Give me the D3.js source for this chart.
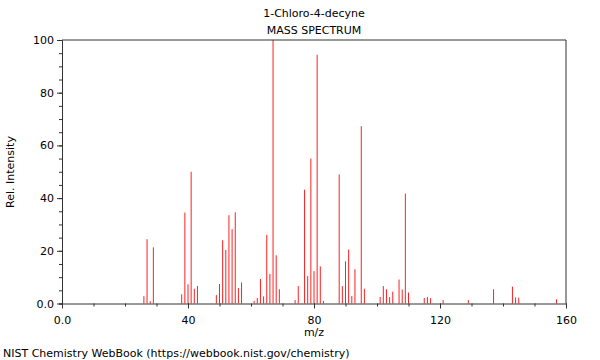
<!DOCTYPE html>
<html>
<head>
<meta charset="utf-8">
<script src="https://cdn.jsdelivr.net/npm/d3@7"></script>
<style>
    body { margin: 0; background: #fff; }
    svg text { font-family: "DejaVu Sans", sans-serif; font-size: 11px; fill: #000; }
</style>
</head>
<body>
<svg id="chart" width="600" height="360"></svg>
<script>
// Peaks
const mzValues = [26, 27, 28, 29, 38, 39, 40, 41, 42, 43,
    49, 50, 51, 52, 53, 54, 55, 56, 57,
    61, 62, 63, 64, 65, 66, 67, 68, 69,
    74, 75, 77, 78, 79, 80, 81, 82, 83,
    88, 89, 90, 91, 92, 93, 95, 96,
    101, 102, 103, 104, 105, 107, 108, 109, 110,
    115, 116, 117, 121, 129, 137, 143, 144, 145, 157];
const intensities = [2.8, 24.4, 0.9, 21.3, 3.5, 34.5, 7.3, 50, 5.6, 6.6,
    3.2, 7.4, 24, 20.3, 33.5, 28.2, 34.6, 5.9, 8.0,
    1.0, 2.1, 9.3, 2.7, 26.0, 11.2, 100, 18.3, 5.4,
    1.3, 6.6, 43.2, 10.4, 55.0, 12.3, 94.4, 14.1, 1.0,
    49.0, 6.6, 16.0, 20.5, 2.8, 13.0, 67.3, 5.6,
    2.5, 6.6, 5.4, 2.4, 4.5, 9.1, 5.3, 41.7, 4.2,
    2.1, 2.5, 2.0, 1.3, 1.3, 5.4, 6.4, 2.3, 2.2, 1.6];

const xTicks = [0, 40, 80, 120, 160];
const yTicks = [0, 20, 40, 60, 80, 100];
const xTickLabels = ["0.0", "40", "80", "120", "160"];
const yTickLabels = ["0.0", "20", "40", "60", "80", "100"];

const titleLines = ["1-Chloro-4-decyne", "MASS SPECTRUM"];

const svg = d3.select("#chart");
const plotLeft = 62, plotRight = 566, plotTop = 40, plotBottom = 303.5;
const axisColor = "#333";

const x = d3.scaleLinear().domain([0, 160]).range([plotLeft, plotRight]);
const y = d3.scaleLinear().domain([0, 100]).range([plotBottom, plotTop]);

// Bars
svg.append("g")
    .selectAll("line")
    .data(mzValues.map((m, i) => ({ mz: m, v: intensities[i] })))
    .enter().append("line")
    .attr("x1", d => x(d.mz))
    .attr("x2", d => x(d.mz))
    .attr("y1", y(0))
    .attr("y2", d => y(d.v))
    .attr("stroke", "#ff2020")
    .attr("stroke-width", 1);

// Frame (top and right)
svg.append("path")
    .attr("d", `M${plotLeft},${plotTop}H${plotRight}V${plotBottom}`)
    .attr("fill", "none")
    .attr("stroke", axisColor);

// X axis
const xAxis = svg.append("g").attr("transform", `translate(0,${plotBottom})`);
xAxis.call(d3.axisBottom(x).tickValues(d3.range(0, 161, 10)).tickSize(3).tickFormat(""))
    .call(g => g.select(".domain").attr("stroke", axisColor))
    .call(g => g.selectAll(".tick line").attr("stroke", axisColor));
xAxis.append("g")
    .call(d3.axisBottom(x).tickValues(xTicks).tickSize(5)
        .tickFormat((d, i) => xTickLabels[i]))
    .call(g => g.select(".domain").remove())
    .call(g => g.selectAll(".tick line").attr("stroke", axisColor))
    .call(g => g.selectAll("text").attr("dy", "1.1em").style("font-size", "11px").style("font-family", "DejaVu Sans"));

// Y axis
const yAxis = svg.append("g").attr("transform", `translate(${plotLeft},0)`);
yAxis.call(d3.axisLeft(y).tickValues(d3.range(0, 101, 5)).tickSize(3).tickFormat(""))
    .call(g => g.select(".domain").attr("stroke", axisColor))
    .call(g => g.selectAll(".tick line").attr("stroke", axisColor));
yAxis.append("g")
    .call(d3.axisLeft(y).tickValues(yTicks).tickSize(5)
        .tickFormat((d, i) => yTickLabels[i]))
    .call(g => g.select(".domain").remove())
    .call(g => g.selectAll(".tick line").attr("stroke", axisColor))
    .call(g => g.selectAll("text").style("font-size", "11px").style("font-family", "DejaVu Sans"));

// Titles
svg.selectAll(".title")
    .data(titleLines)
    .enter().append("text")
    .attr("class", "title")
    .attr("x", 314)
    .attr("y", (d, i) => 17 + i * 17)
    .attr("text-anchor", "middle")
    .text(d => d);

// Axis labels
svg.append("text")
    .attr("x", 314)
    .attr("y", 336)
    .attr("text-anchor", "middle")
    .text("m/z");

svg.append("text")
    .attr("transform", "translate(14,172) rotate(-90)")
    .attr("text-anchor", "middle")
    .text("Rel. Intensity");

svg.append("text")
    .attr("x", 3)
    .attr("y", 357)
    .text("NIST Chemistry WebBook (https://webbook.nist.gov/chemistry)");
</script>
</body>
</html>
